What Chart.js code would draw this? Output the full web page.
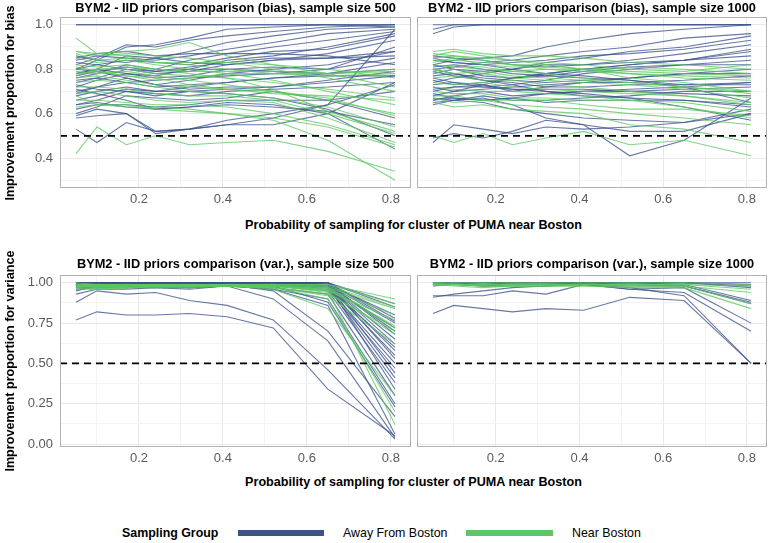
<!DOCTYPE html>
<html>
<head>
<meta charset="utf-8">
<script src="https://cdn.jsdelivr.net/npm/chart.js@4.4.1/dist/chart.umd.min.js"></script>
<style>
  body { margin: 0; background: #fff; }
  #wrap { position: relative; width: 771px; height: 543px; font-family: 'Liberation Sans', Arial, sans-serif; color: #000; }
  canvas { position: absolute; }
  .ttl { position: absolute; font-weight: bold; font-size: 12.8px; line-height: 14px; text-align: center; white-space: nowrap; }
  .xtl { position: absolute; font-weight: bold; font-size: 12.6px; line-height: 14px; text-align: center; white-space: nowrap; }
  .ytl { position: absolute; width: 240px; font-weight: bold; font-size: 12.6px; line-height: 14px; text-align: center; transform: rotate(-90deg); white-space: nowrap; }
  .lg { position: absolute; font-size: 12.4px; line-height: 14px; white-space: nowrap; }
  .sw { position: absolute; height: 6px; }
</style>
</head>
<body>
<div id="wrap">
  <canvas id="c1" width="412" height="212" style="left:0;top:0"></canvas>
  <canvas id="c2" width="359" height="212" style="left:412px;top:0"></canvas>
  <canvas id="c3" width="412" height="220" style="left:0;top:250px"></canvas>
  <canvas id="c4" width="359" height="220" style="left:412px;top:250px"></canvas>

  <div class="ttl" style="left:60px;width:351px;top:1px">BYM2 - IID priors comparison (bias), sample size 500</div>
  <div class="ttl" style="left:417px;width:350px;top:1px">BYM2 - IID priors comparison (bias), sample size 1000</div>
  <div class="ttl" style="left:60px;width:351px;top:257px">BYM2 - IID priors comparison (var.), sample size 500</div>
  <div class="ttl" style="left:417px;width:350px;top:257px">BYM2 - IID priors comparison (var.), sample size 1000</div>

  <div class="xtl" style="left:60px;width:707px;top:218px">Probability of sampling for cluster of PUMA near Boston</div>
  <div class="xtl" style="left:60px;width:707px;top:475px">Probability of sampling for cluster of PUMA near Boston</div>

  <div class="ytl" style="left:-110px;top:96px">Improvement proportion for bias</div>
  <div class="ytl" style="left:-110px;top:354px">Improvement proportion for variance</div>

  <div class="lg" style="left:122px;top:526px;font-weight:bold">Sampling Group</div>
  <div class="sw" style="left:238px;top:530px;width:86px;background:#3b528b"></div>
  <div class="lg" style="left:343px;top:526px">Away From Boston</div>
  <div class="sw" style="left:466px;top:530px;width:87px;background:#5dc863"></div>
  <div class="lg" style="left:572px;top:526px">Near Boston</div>
</div>

<script>
const probs = [0.05, 0.10, 0.17, 0.24, 0.32, 0.41, 0.52, 0.65, 0.81]

const xLimits    = [0.012, 0.848]
const biasLimits = [0.265, 1.035]
const varLimits  = [-0.0185, 1.0485]
const xTicks     = [0.1, 0.2, 0.3, 0.4, 0.5, 0.6, 0.7, 0.8]
const xMajor     = [0.2, 0.4, 0.6, 0.8]
const biasTicks  = [0.3, 0.4, 0.5, 0.6, 0.7, 0.8, 0.9, 1.0]
const biasMajor  = [0.4, 0.6, 0.8, 1.0]
const varTicks   = [0, 0.125, 0.25, 0.375, 0.5, 0.625, 0.75, 0.875, 1.0]
const varMajor   = [0, 0.25, 0.5, 0.75, 1.0]
const refLevel   = 0.5

// bias, sample size 500
const biasAway500 = [
  [1.00,1.00,1.00,1.00,1.00,1.00,1.00,1.00,1.00],
  [1.00,1.00,1.00,1.00,1.00,1.00,1.00,1.00,0.99],
  [0.80,0.84,0.90,0.91,0.94,0.98,0.99,1.00,1.00],
  [0.82,0.85,0.91,0.90,0.93,0.95,0.97,0.99,1.00],
  [0.78,0.80,0.86,0.85,0.88,0.92,0.95,0.98,0.99],
  [0.84,0.86,0.85,0.84,0.86,0.89,0.92,0.96,0.98],
  [0.76,0.78,0.82,0.80,0.84,0.87,0.90,0.93,0.97],
  [0.72,0.75,0.78,0.77,0.80,0.84,0.86,0.90,0.96],
  [0.80,0.82,0.84,0.83,0.82,0.85,0.88,0.89,0.95],
  [0.74,0.76,0.80,0.78,0.79,0.82,0.84,0.87,0.93],
  [0.86,0.84,0.83,0.85,0.83,0.82,0.84,0.85,0.88],
  [0.70,0.72,0.76,0.73,0.75,0.78,0.80,0.82,0.88],
  [0.78,0.80,0.78,0.76,0.77,0.80,0.81,0.80,0.85],
  [0.83,0.82,0.80,0.79,0.80,0.80,0.79,0.78,0.80],
  [0.68,0.70,0.72,0.70,0.72,0.74,0.76,0.78,0.83],
  [0.75,0.76,0.74,0.72,0.73,0.74,0.76,0.77,0.77],
  [0.64,0.66,0.70,0.68,0.70,0.71,0.72,0.75,0.79],
  [0.80,0.79,0.76,0.73,0.71,0.72,0.72,0.74,0.77],
  [0.73,0.71,0.70,0.69,0.68,0.70,0.71,0.72,0.74],
  [0.62,0.64,0.64,0.63,0.64,0.66,0.66,0.66,0.70],
  [0.60,0.63,0.68,0.67,0.66,0.67,0.70,0.66,0.58],
  [0.64,0.65,0.63,0.62,0.63,0.64,0.63,0.61,0.55],
  [0.66,0.68,0.71,0.70,0.70,0.69,0.67,0.62,0.50],
  [0.71,0.69,0.66,0.62,0.63,0.65,0.64,0.60,0.44],
  [0.58,0.59,0.60,0.52,0.53,0.55,0.58,0.64,0.73],
  [0.53,0.47,0.56,0.52,0.53,0.55,0.55,0.60,0.74],
  [0.59,0.62,0.60,0.51,0.53,0.57,0.60,0.64,0.98],
  [0.77,0.79,0.81,0.79,0.81,0.83,0.85,0.85,0.86],
  [0.85,0.87,0.88,0.86,0.87,0.87,0.87,0.86,0.82],
  [0.69,0.72,0.74,0.75,0.76,0.77,0.78,0.80,0.90],
]
const biasNear500 = [
  [0.94,0.87,0.88,0.89,0.92,0.86,0.82,0.78,0.72],
  [0.88,0.86,0.87,0.86,0.85,0.83,0.80,0.76,0.70],
  [0.87,0.84,0.85,0.83,0.82,0.80,0.78,0.78,0.80],
  [0.85,0.83,0.84,0.82,0.80,0.78,0.75,0.70,0.64],
  [0.82,0.81,0.82,0.80,0.79,0.79,0.79,0.78,0.79],
  [0.80,0.80,0.80,0.78,0.77,0.76,0.74,0.71,0.67],
  [0.79,0.78,0.79,0.77,0.75,0.73,0.70,0.66,0.60],
  [0.78,0.79,0.77,0.75,0.76,0.78,0.78,0.77,0.78],
  [0.76,0.77,0.75,0.73,0.72,0.71,0.70,0.67,0.59],
  [0.74,0.75,0.74,0.72,0.70,0.69,0.67,0.63,0.54],
  [0.72,0.72,0.71,0.69,0.68,0.68,0.66,0.60,0.51],
  [0.69,0.70,0.68,0.66,0.65,0.66,0.65,0.58,0.47],
  [0.66,0.66,0.65,0.64,0.64,0.63,0.60,0.55,0.46],
  [0.63,0.64,0.63,0.63,0.62,0.60,0.58,0.54,0.45],
  [0.42,0.54,0.46,0.50,0.46,0.47,0.48,0.43,0.34],
  [0.68,0.64,0.64,0.62,0.61,0.60,0.57,0.48,0.30],
  [0.88,0.87,0.86,0.83,0.83,0.83,0.82,0.80,0.76],
  [0.81,0.79,0.77,0.76,0.73,0.71,0.69,0.68,0.66],
  [0.77,0.80,0.81,0.80,0.78,0.76,0.71,0.61,0.52],
]

// bias, sample size 1000
const biasAway1000 = [
  [1.00,1.00,1.00,1.00,1.00,1.00,1.00,1.00,1.00],
  [0.96,0.99,1.00,1.00,1.00,1.00,1.00,1.00,1.00],
  [0.98,1.00,1.00,1.00,1.00,1.00,1.00,1.00,1.00],
  [0.82,0.84,0.85,0.86,0.90,0.93,0.96,0.98,1.00],
  [0.80,0.81,0.83,0.84,0.86,0.88,0.90,0.94,0.96],
  [0.78,0.80,0.79,0.80,0.83,0.85,0.88,0.90,0.95],
  [0.84,0.83,0.82,0.83,0.84,0.86,0.87,0.89,0.93],
  [0.74,0.76,0.78,0.80,0.82,0.82,0.84,0.87,0.91],
  [0.70,0.72,0.73,0.76,0.78,0.80,0.82,0.84,0.88],
  [0.86,0.85,0.84,0.82,0.81,0.82,0.83,0.84,0.86],
  [0.76,0.74,0.72,0.73,0.75,0.78,0.80,0.82,0.84],
  [0.82,0.80,0.77,0.76,0.77,0.79,0.81,0.82,0.82],
  [0.68,0.70,0.71,0.72,0.73,0.74,0.76,0.78,0.80],
  [0.72,0.70,0.73,0.70,0.72,0.74,0.74,0.75,0.77],
  [0.80,0.78,0.76,0.75,0.74,0.75,0.76,0.78,0.78],
  [0.66,0.68,0.70,0.68,0.69,0.70,0.71,0.72,0.74],
  [0.77,0.78,0.75,0.74,0.72,0.72,0.73,0.73,0.74],
  [0.69,0.67,0.66,0.67,0.69,0.70,0.70,0.71,0.72],
  [0.65,0.66,0.68,0.66,0.66,0.67,0.68,0.70,0.70],
  [0.73,0.74,0.73,0.71,0.71,0.71,0.70,0.69,0.68],
  [0.85,0.83,0.82,0.80,0.78,0.77,0.75,0.72,0.65],
  [0.79,0.77,0.75,0.73,0.70,0.68,0.67,0.66,0.64],
  [0.67,0.66,0.65,0.62,0.60,0.58,0.57,0.56,0.60],
  [0.64,0.66,0.67,0.64,0.58,0.55,0.52,0.52,0.60],
  [0.49,0.51,0.49,0.52,0.57,0.55,0.41,0.48,0.67],
  [0.47,0.55,0.53,0.51,0.54,0.53,0.54,0.56,0.62],
  [0.81,0.82,0.80,0.78,0.77,0.76,0.75,0.73,0.73],
  [0.75,0.73,0.74,0.76,0.78,0.80,0.82,0.84,0.89],
  [0.66,0.67,0.66,0.67,0.65,0.66,0.66,0.66,0.63],
  [0.71,0.72,0.72,0.71,0.70,0.69,0.67,0.63,0.57],
]
const biasNear1000 = [
  [0.88,0.89,0.87,0.86,0.86,0.85,0.83,0.82,0.80],
  [0.87,0.86,0.85,0.84,0.83,0.82,0.80,0.79,0.82],
  [0.86,0.88,0.86,0.84,0.82,0.80,0.78,0.76,0.75],
  [0.84,0.84,0.83,0.82,0.80,0.79,0.78,0.77,0.76],
  [0.83,0.85,0.82,0.81,0.81,0.80,0.81,0.80,0.78],
  [0.82,0.81,0.80,0.79,0.78,0.76,0.74,0.72,0.69],
  [0.80,0.78,0.79,0.77,0.76,0.75,0.74,0.72,0.70],
  [0.78,0.80,0.78,0.76,0.75,0.74,0.73,0.71,0.67],
  [0.76,0.77,0.75,0.75,0.73,0.72,0.70,0.68,0.65],
  [0.74,0.73,0.74,0.72,0.71,0.70,0.69,0.68,0.64],
  [0.72,0.71,0.70,0.70,0.69,0.68,0.66,0.65,0.61],
  [0.70,0.69,0.69,0.67,0.67,0.66,0.66,0.63,0.58],
  [0.68,0.68,0.66,0.66,0.66,0.64,0.62,0.62,0.59],
  [0.50,0.47,0.51,0.46,0.49,0.52,0.46,0.48,0.41],
  [0.65,0.63,0.64,0.62,0.61,0.60,0.55,0.53,0.47],
  [0.85,0.86,0.84,0.82,0.82,0.80,0.76,0.74,0.70],
  [0.79,0.82,0.81,0.79,0.80,0.80,0.79,0.78,0.77],
  [0.67,0.65,0.66,0.64,0.63,0.62,0.60,0.58,0.55],
]

// variance, sample size 500
const varAway500 = [
  [1.00,1.00,1.00,1.00,1.00,1.00,1.00,1.00,0.87],
  [1.00,1.00,1.00,1.00,1.00,1.00,1.00,1.00,0.85],
  [0.99,1.00,1.00,1.00,1.00,1.00,1.00,0.99,0.80],
  [1.00,0.99,1.00,1.00,1.00,1.00,1.00,1.00,0.78],
  [0.99,0.99,0.99,0.99,1.00,1.00,1.00,0.99,0.75],
  [0.99,1.00,0.99,1.00,1.00,1.00,0.99,0.98,0.72],
  [1.00,1.00,1.00,1.00,1.00,1.00,1.00,1.00,0.68],
  [0.98,0.99,0.99,0.99,0.99,1.00,1.00,0.99,0.65],
  [0.99,0.99,1.00,0.99,0.99,0.99,0.99,0.99,0.62],
  [1.00,1.00,1.00,1.00,1.00,1.00,1.00,0.99,0.58],
  [0.98,0.98,0.98,0.98,0.97,0.99,0.99,0.98,0.55],
  [0.99,1.00,1.00,1.00,1.00,1.00,1.00,1.00,0.53],
  [0.99,0.99,0.99,0.99,0.99,0.99,0.99,0.97,0.50],
  [0.98,0.99,0.99,0.99,0.99,0.99,0.98,0.96,0.47],
  [1.00,1.00,1.00,1.00,1.00,1.00,1.00,0.99,0.44],
  [0.99,0.99,0.99,1.00,1.00,0.99,0.99,0.97,0.41],
  [0.97,0.98,0.98,0.98,0.97,0.98,0.98,0.95,0.38],
  [0.99,1.00,1.00,1.00,1.00,1.00,1.00,0.99,0.34],
  [0.98,0.98,0.98,0.97,0.96,0.98,0.97,0.93,0.30],
  [0.96,0.97,0.97,0.98,0.98,0.98,0.96,0.90,0.25],
  [0.99,0.99,0.99,1.00,1.00,0.99,0.98,0.88,0.23],
  [0.95,0.98,0.98,0.98,0.98,0.99,0.95,0.70,0.17],
  [0.93,0.96,0.96,0.97,0.97,0.98,0.96,0.86,0.06],
  [0.88,0.95,0.93,0.94,0.89,0.86,0.77,0.46,0.03],
  [0.77,0.82,0.80,0.80,0.81,0.79,0.72,0.34,0.05],
  [0.97,0.97,0.97,0.97,0.98,0.98,0.90,0.64,0.04],
  [1.00,1.00,1.00,1.00,1.00,1.00,1.00,1.00,0.76],
  [0.99,0.99,0.99,0.99,0.99,0.99,0.99,0.99,0.70],
  [0.98,0.97,0.98,0.98,0.98,0.98,0.98,0.97,0.60],
]
const varNear500 = [
  [0.99,0.99,0.99,0.99,0.99,0.99,0.99,0.99,0.90],
  [0.99,0.98,0.98,0.98,0.99,0.99,0.99,0.99,0.87],
  [1.00,0.99,0.99,0.99,0.99,0.99,0.99,0.98,0.85],
  [0.98,0.98,0.98,0.98,0.98,0.98,0.98,0.97,0.84],
  [0.99,0.98,0.99,0.98,0.98,0.99,0.98,0.96,0.80],
  [0.98,0.97,0.98,0.99,0.98,0.98,0.98,0.95,0.77],
  [0.99,0.99,0.99,0.99,0.99,0.99,0.99,0.97,0.73],
  [0.97,0.98,0.97,0.98,0.98,0.98,0.97,0.93,0.70],
  [0.98,0.98,0.98,0.98,0.98,0.98,0.98,0.94,0.68],
  [0.97,0.96,0.97,0.98,0.98,0.98,0.97,0.92,0.62],
  [0.96,0.96,0.97,0.97,0.97,0.98,0.96,0.84,0.30],
  [0.98,0.97,0.97,0.98,0.98,0.98,0.97,0.90,0.20],
  [0.99,0.99,0.99,0.99,0.99,0.99,0.98,0.95,0.12],
  [0.98,0.98,0.98,0.98,0.98,0.98,0.98,0.96,0.72],
]

// variance, sample size 1000
const varAway1000 = [
  [1.00,1.00,1.00,1.00,1.00,1.00,1.00,1.00,1.00],
  [1.00,1.00,1.00,1.00,1.00,1.00,1.00,1.00,0.99],
  [0.99,1.00,1.00,1.00,1.00,1.00,1.00,1.00,0.98],
  [1.00,1.00,0.99,1.00,1.00,1.00,1.00,1.00,0.97],
  [1.00,1.00,1.00,1.00,1.00,1.00,1.00,0.99,0.89],
  [0.99,0.99,0.98,0.99,0.99,1.00,0.99,0.98,0.88],
  [0.98,0.99,0.98,0.98,0.98,0.99,0.98,0.98,0.87],
  [0.91,0.93,0.95,0.97,0.98,0.99,0.96,0.97,0.75],
  [0.92,0.92,0.92,0.95,0.93,0.99,0.96,0.94,0.70],
  [0.81,0.86,0.84,0.82,0.84,0.83,0.91,0.89,0.50],
  [0.99,0.99,0.99,0.99,0.99,0.99,0.97,0.92,0.50],
]
const varNear1000 = [
  [0.99,0.99,0.99,0.99,0.99,0.99,0.99,0.99,0.98],
  [0.99,0.98,0.97,0.98,0.98,0.99,0.98,0.98,0.94],
  [1.00,0.99,0.99,0.99,0.99,0.99,0.99,0.99,0.96],
  [0.99,0.99,0.98,0.98,0.98,0.98,0.97,0.97,0.84],
  [0.98,0.99,0.98,0.98,0.98,0.98,0.98,0.98,0.87],
  [1.00,1.00,1.00,1.00,1.00,1.00,1.00,1.00,0.99],
]

const AWAY = 'rgba(59,82,139,0.78)'
const NEAR = 'rgba(93,200,99,0.78)'

const panelBox = {
  id: 'panelBox',
  afterDraw(chart) {
    const a = chart.chartArea, ctx = chart.ctx
    ctx.save()
    ctx.strokeStyle = '#b3b3b3'
    ctx.lineWidth = 1
    ctx.strokeRect(Math.round(a.left) + 0.5, Math.round(a.top) + 0.5, Math.round(a.right - a.left) - 1, Math.round(a.bottom - a.top) - 1)
    ctx.restore()
  }
}

const isIn = (arr, v) => arr.some(m => Math.abs(m - v) < 1e-6)

function lineSet(rows, color) {
  return rows.map(r => ({
    data: probs.map((x, i) => ({ x, y: r[i] })),
    borderColor: color, borderWidth: 1.1, pointRadius: 0, tension: 0, fill: false
  }))
}

function renderPanel(id, away, near, o) {
  const datasets = [
    { data: [{ x: xLimits[0], y: refLevel }, { x: xLimits[1], y: refLevel }],
      borderColor: '#000', borderWidth: 1.7, borderDash: [7, 5], pointRadius: 0 },
    ...lineSet(near, NEAR),
    ...lineSet(away, AWAY),
  ]
  const font = { family: "'Liberation Sans', Arial, sans-serif", size: 13 }
  new Chart(document.getElementById(id), {
    type: 'line',
    data: { datasets },
    plugins: [panelBox],
    options: {
      responsive: false, animation: false, events: [],
      layout: { padding: { top: o.padTop, right: o.padRight, left: 0, bottom: 0 } },
      plugins: { legend: { display: false }, tooltip: { enabled: false } },
      scales: {
        x: {
          type: 'linear', min: xLimits[0], max: xLimits[1],
          afterBuildTicks: s => { s.ticks = xTicks.map(v => ({ value: v })) },
          afterFit: s => { s.height = o.xHeight },
          border: { display: false },
          grid: { drawTicks: false, color: c => isIn(xMajor, c.tick.value) ? '#e8e8e8' : '#f3f3f3', lineWidth: 1 },
          ticks: { padding: 4, color: '#5a5a5a', font, maxRotation: 0, autoSkip: false,
                   callback: v => isIn(xMajor, v) ? v.toFixed(1) : '' }
        },
        y: {
          type: 'linear', min: o.yLimits[0], max: o.yLimits[1],
          afterBuildTicks: s => { s.ticks = o.yTicks.map(v => ({ value: v })) },
          afterFit: s => { s.width = o.yWidth },
          border: { display: false },
          grid: { drawTicks: false, color: c => isIn(o.yMajor, c.tick.value) ? '#e8e8e8' : '#f3f3f3', lineWidth: 1 },
          ticks: { display: o.showY, padding: 7, color: '#5a5a5a', font, autoSkip: false,
                   callback: v => isIn(o.yMajor, v) ? v.toFixed(o.digits) : '' }
        }
      }
    }
  })
}

renderPanel('c1', biasAway500, biasNear500,
  { yLimits: biasLimits, yTicks: biasTicks, yMajor: biasMajor, digits: 1, showY: true, yWidth: 60, xHeight: 24, padTop: 17, padRight: 1 })
renderPanel('c2', biasAway1000, biasNear1000,
  { yLimits: biasLimits, yTicks: biasTicks, yMajor: biasMajor, digits: 1, showY: false, yWidth: 5, xHeight: 24, padTop: 17, padRight: 4 })
renderPanel('c3', varAway500, varNear500,
  { yLimits: varLimits, yTicks: varTicks, yMajor: varMajor, digits: 2, showY: true, yWidth: 60, xHeight: 23, padTop: 25, padRight: 1 })
renderPanel('c4', varAway1000, varNear1000,
  { yLimits: varLimits, yTicks: varTicks, yMajor: varMajor, digits: 2, showY: false, yWidth: 5, xHeight: 23, padTop: 25, padRight: 4 })
</script>
</body>
</html>
